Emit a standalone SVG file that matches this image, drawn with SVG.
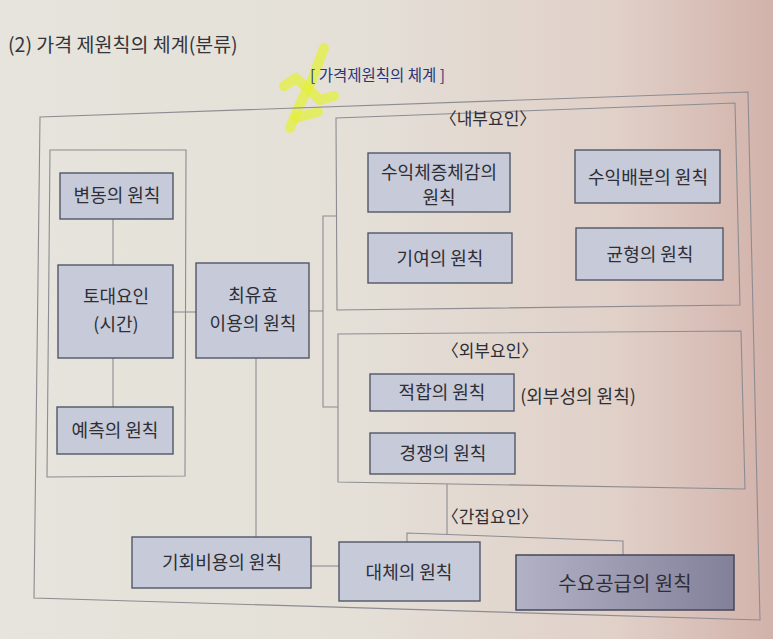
<svg xmlns="http://www.w3.org/2000/svg" width="773" height="639" viewBox="0 0 773 639">
  <defs>
    <linearGradient id="paper" x1="0" y1="0" x2="1" y2="0">
      <stop offset="0" stop-color="#e6e4dc"/>
      <stop offset="0.45" stop-color="#e4e0d8"/>
      <stop offset="0.8" stop-color="#e0d0c8"/>
      <stop offset="1" stop-color="#d2b2aa"/>
    </linearGradient>
    <linearGradient id="dark" x1="0" y1="0" x2="1" y2="0">
      <stop offset="0" stop-color="#b2b2c6"/>
      <stop offset="1" stop-color="#83809a"/>
    </linearGradient>
    <style>
      .frame { fill: none; stroke: #8c8c92; stroke-width: 1.1; }
      .box { fill: #c7cad8; stroke: #525768; stroke-width: 1.4; }
      .boxd { fill: url(#dark); stroke: #44475a; stroke-width: 1.5; }
      .t { font-family: "Noto Sans CJK KR", "Noto Sans", sans-serif; font-size: 18px; fill: #2e2f36; text-anchor: middle; }
      .lbl { font-family: "Noto Sans CJK KR", "Noto Sans", sans-serif; font-size: 17px; fill: #2e2f36; text-anchor: middle; }
      .conn line, .conn polyline { stroke: #8c8c92; stroke-width: 1.1; fill: none; }
    </style>
  </defs>

  <rect x="0" y="0" width="773" height="639" fill="url(#paper)"/>

  <!-- highlighter mark -->
  <g id="highlight" fill="none" stroke="#e4f034" stroke-opacity="0.7" stroke-width="10" stroke-linecap="round" stroke-linejoin="round">
    <path d="M324 48 L312 80 L298 108 L290 128"/>
    <path d="M284 86 L296 78 L320 100 L334 96"/>
    <path d="M296 118 L318 112"/>
  </g>

  <text x="8" y="52" font-family="Noto Sans CJK KR, Noto Sans, sans-serif" font-size="19.5" fill="#34343a">(2) 가격 제원칙의 체계(분류)</text>
  <text x="310" y="81" font-family="Noto Sans CJK KR, Noto Sans, sans-serif" font-size="15.5" fill="#27357a">[ 가격제원칙의 체계 ]</text>

  <!-- frames -->
  <g id="frames">
    <polygon id="outer-frame" class="frame" points="40,117 748,92 760,620 34,598"/>
    <polygon id="left-frame" class="frame" points="50,150 186,150 185,476 47,477"/>
    <polygon id="internal-frame" class="frame" points="336,118 735,103 740,305 337,310"/>
    <polygon id="external-frame" class="frame" points="338,334 741,331 745,489 338,482"/>
  </g>

  <!-- connectors -->
  <g id="connectors" class="conn">
    <line x1="113" y1="219" x2="113" y2="265"/>
    <line x1="113" y1="358" x2="113" y2="407"/>
    <line x1="173" y1="312" x2="196" y2="312"/>
    <line x1="309" y1="311" x2="323" y2="311"/>
    <polyline points="337,216 323,216 323,407 338,407"/>
    <line x1="256" y1="358" x2="256" y2="537"/>
    <line x1="311" y1="566" x2="339" y2="566"/>
    <line x1="447" y1="484" x2="447" y2="534"/>
    <polyline points="407,543 407,533 623,541 623,555"/>
  </g>

  <!-- labels -->
  <text class="lbl" x="488" y="125">〈내부요인〉</text>
  <text class="lbl" x="490" y="357">〈외부요인〉</text>
  <text class="lbl" x="490" y="523">〈간접요인〉</text>

  <!-- nodes -->
  <g id="n-byeondong">
    <rect class="box" x="60" y="173" width="113" height="46"/>
    <text class="t" x="117" y="202">변동의 원칙</text>
  </g>
  <g id="n-todae">
    <rect class="box" x="58" y="265" width="115" height="93"/>
    <text class="t" x="116" y="303">토대요인</text>
    <text class="t" x="116" y="331">(시간)</text>
  </g>
  <g id="n-yecheuk">
    <rect class="box" x="57" y="407" width="116" height="47"/>
    <text class="t" x="115" y="437">예측의 원칙</text>
  </g>
  <g id="n-choeyuhyo">
    <rect class="box" x="196" y="263" width="113" height="95"/>
    <text class="t" x="253" y="302">최유효</text>
    <text class="t" x="253" y="330">이용의 원칙</text>
  </g>
  <g id="n-suik-chejeung">
    <rect class="box" x="368" y="153" width="142" height="59"/>
    <text class="t" x="439" y="179">수익체증체감의</text>
    <text class="t" x="439" y="204">원칙</text>
  </g>
  <g id="n-suik-baebun">
    <rect class="box" x="575" y="150" width="145" height="53"/>
    <text class="t" x="648" y="184">수익배분의 원칙</text>
  </g>
  <g id="n-giyeo">
    <rect class="box" x="368" y="233" width="144" height="50"/>
    <text class="t" x="440" y="265">기여의 원칙</text>
  </g>
  <g id="n-gyunhyeong">
    <rect class="box" x="576" y="228" width="147" height="52"/>
    <text class="t" x="650" y="261">균형의 원칙</text>
  </g>
  <g id="n-jeokhap">
    <rect class="box" x="370" y="374" width="144" height="37"/>
    <text class="t" x="442" y="399">적합의 원칙</text>
    <text class="t" x="578" y="403">(외부성의 원칙)</text>
  </g>
  <g id="n-gyeongjaeng">
    <rect class="box" x="370" y="433" width="145" height="41"/>
    <text class="t" x="443" y="460">경쟁의 원칙</text>
  </g>
  <g id="n-gihoebiyong">
    <rect class="box" x="132" y="537" width="179" height="51"/>
    <text class="t" x="222" y="569">기회비용의 원칙</text>
  </g>
  <g id="n-daeche">
    <rect class="box" x="339" y="542" width="141" height="59"/>
    <text class="t" x="409" y="579">대체의 원칙</text>
  </g>
  <g id="n-suyogonggeup">
    <rect class="boxd" x="516" y="555" width="218" height="55"/>
    <text class="t" x="625" y="591" style="font-size:20px">수요공급의 원칙</text>
  </g>
</svg>
